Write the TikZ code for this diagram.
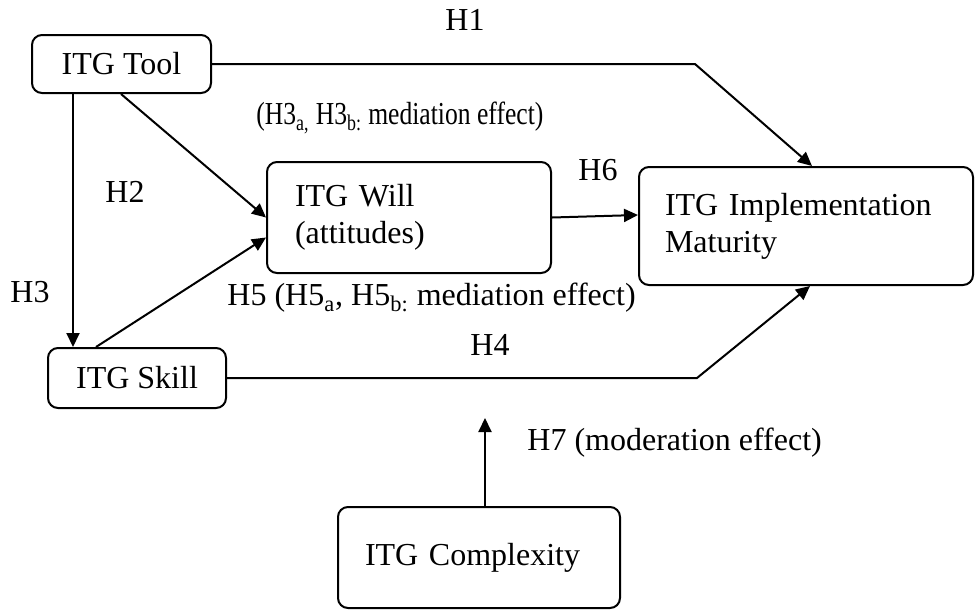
\documentclass[tikz,border=0pt]{standalone}
\usepackage{fontspec}
\usepackage{graphicx}
\setmainfont{Liberation Serif}
\usetikzlibrary{arrows.meta}
\begin{document}
\begin{tikzpicture}[
    x=0.5pt, y=-0.5pt,
    box_style/.style={draw, line width=1pt, rounded corners=5pt, inner ysep=0pt, font=\fontsize{16}{18.5}\selectfont},
    arrow_style/.style={line width=1pt, -{Triangle[length=7pt,width=6.5pt]}},
    label_style/.style={font=\fontsize{16}{18.5}\selectfont, inner sep=0pt}
]
\useasboundingbox (0,0) rectangle (976,612);
% Boites
\node[box_style, minimum width=89.5pt, minimum height=29pt] (tool) at (121.5,64) {ITG Tool};
\node[box_style, minimum width=89pt, minimum height=30pt] (skill) at (137,378) {ITG Skill};
\node[box_style, align=left, text width=114pt, inner xsep=14pt, minimum height=55.5pt] (will) at (409,217.5) {ITG Will\\(attitudes)};
\node[box_style, align=left, text width=141pt, inner xsep=13pt, minimum height=59pt] (maturity) at (806,226) {ITG Implementation\\Maturity};
\node[box_style, align=left, text width=114pt, inner xsep=13.5pt, minimum height=50.5pt] (complexity) at (479,557.5) {ITG Complexity};
% Liens
\coordinate (h1bend) at (695,64);
\coordinate (h4bend) at (697,378);
\coordinate (h7end) at (485,418);
\draw[arrow_style] (tool.east) -- (h1bend) -- ([xshift=3pt]maturity.north);
\draw[arrow_style] ([xshift=21pt]tool.south west) -- ([xshift=13pt]skill.north west);
\draw[arrow_style] ([xshift=45pt]tool.south west) -- (will.west);
\draw[arrow_style] ([xshift=24.5pt]skill.north west) -- ([yshift=-10pt]will.west);
\draw[arrow_style] (will.east) -- ([yshift=5.5pt]maturity.west);
\draw[arrow_style] (skill.east) -- (h4bend) -- ([xshift=2pt]maturity.south);
\draw[arrow_style] ([xshift=3pt]complexity.north) -- (h7end);
% Etiquettes
\node[label_style] (h1) at (465,20) {H1};
\node[label_style, anchor=west] (h3ab) at (256,118) {\scalebox{0.8}[1]{(H3\textsubscript{a,} H3\textsubscript{b:} mediation effect)}};
\node[label_style] (h2) at (125,192) {H2};
\node[label_style] (h3) at (30,292) {H3};
\node[label_style, anchor=west] (h5) at (227,298) {H5 (H5\textsubscript{a}, H5\textsubscript{b:} mediation effect)};
\node[label_style] (h6) at (598,170) {H6};
\node[label_style] (h4) at (490,345) {H4};
\node[label_style, anchor=west] (h7) at (527,443) {H7 (moderation effect)};
\end{tikzpicture}
\end{document}
